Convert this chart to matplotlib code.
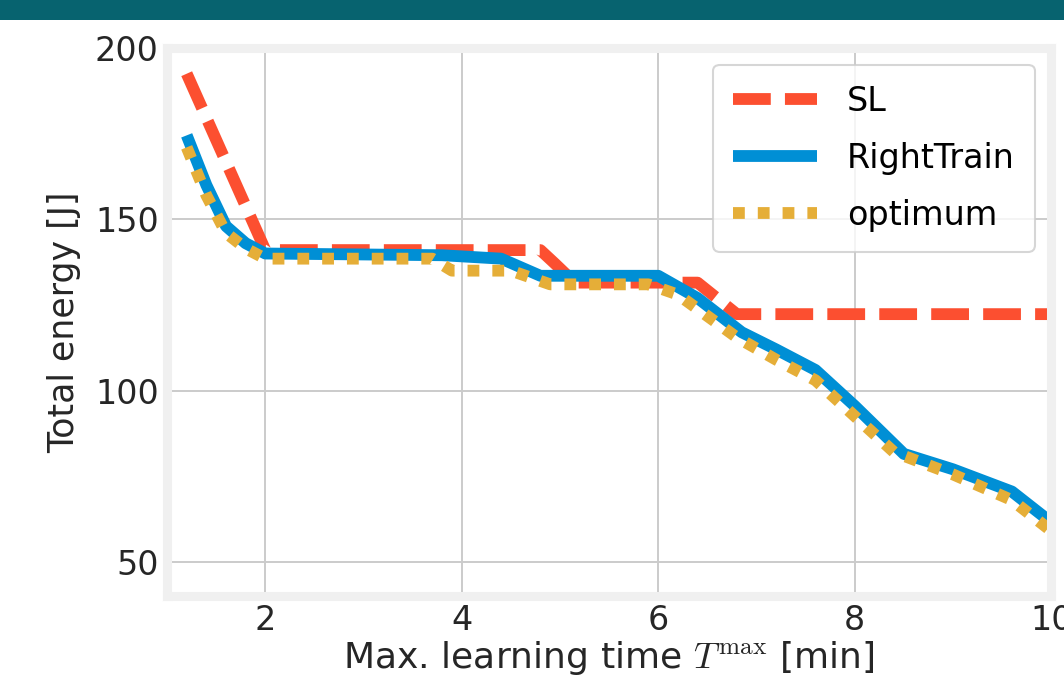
import matplotlib
matplotlib.use("Agg")
import matplotlib.pyplot as plt
from matplotlib.patches import Rectangle

plt.style.use("fivethirtyeight")
plt.rcParams["font.family"] = ["DejaVu Sans"]
plt.rcParams["mathtext.fontset"] = "cm"

# energy vs. max. learning time, read per series
sl_t = [1.2, 2.0, 4.8, 4.95, 5.15, 6.4, 6.8, 10.0]
sl_e = [192.5, 141.0, 141.0, 137.0, 131.5, 131.5, 122.3, 122.3]

rt_t = [1.2, 1.4, 1.6, 1.8, 2.0, 3.8, 4.4, 4.8, 6.0, 6.4, 6.85, 7.2, 7.6, 8.0, 8.5, 9.0, 9.6, 10.0]
rt_e = [174.5, 160.0, 148.0, 143.0, 140.0, 139.5, 138.5, 133.5, 133.5, 127.0, 117.0, 112.0, 106.0, 95.5, 81.5, 77.0, 70.5, 61.5]

opt_t = [1.2, 1.4, 1.6, 1.8, 2.0, 3.7, 3.9, 4.5, 4.9, 5.9, 6.2, 6.8, 7.2, 7.6, 8.0, 8.4, 9.0, 9.6, 10.0]
opt_e = [171.0, 157.0, 146.0, 141.5, 138.5, 138.5, 135.0, 135.0, 131.0, 131.0, 128.0, 115.5, 109.0, 103.0, 92.5, 82.0, 75.5, 68.0, 59.0]

xticks = [2, 4, 6, 8, 10]
yticks = [50, 100, 150, 200]

fig = plt.figure(figsize=(10.64, 6.88), dpi=100, facecolor="white")
# header band
fig.patches.append(Rectangle((0, 0.971), 1, 0.029, transform=fig.transFigure,
                             facecolor="#07636f", edgecolor="none", zorder=0))

ax = fig.add_axes([0.157, 0.1337, 0.831, 0.7965])
ax.set_facecolor("white")

lw = 8.5
ax.plot(sl_t, sl_e, color="#fc4f30", lw=lw, linestyle=(0, (3.2, 1.2)), label="SL")
ax.plot(rt_t, rt_e, color="#008fd5", lw=lw, linestyle="-", label="RightTrain")
ax.plot(opt_t, opt_e, color="#e5ae38", lw=lw, linestyle=(0, (1, 1.1)), label="optimum")

ax.set_xlim(1, 10)
ax.set_ylim(40, 200)
ax.set_xticks(xticks)
ax.set_yticks(yticks)
ax.tick_params(labelsize=24, pad=6, length=0, colors="#262626")
ax.grid(True, color="#cbcbcb", lw=1.4)
for s in ax.spines.values():
    s.set_color("#f0f0f0")
    s.set_linewidth(6.5)

ax.set_xlabel(r"Max. learning time $T^{\max}$ [min]", fontsize=26, color="#262626", labelpad=1)
ax.set_ylabel("Total energy [J]", fontsize=25, color="#262626", labelpad=10)

leg = ax.legend(loc="upper right", fontsize=24, handlelength=2.5, handletextpad=0.9,
                labelspacing=0.72, borderpad=0.6,
                frameon=True, fancybox=True, facecolor="white", edgecolor="#cccccc")
leg.get_frame().set_linewidth(1.5)

fig.savefig("out.png", dpi=100, facecolor="white")
